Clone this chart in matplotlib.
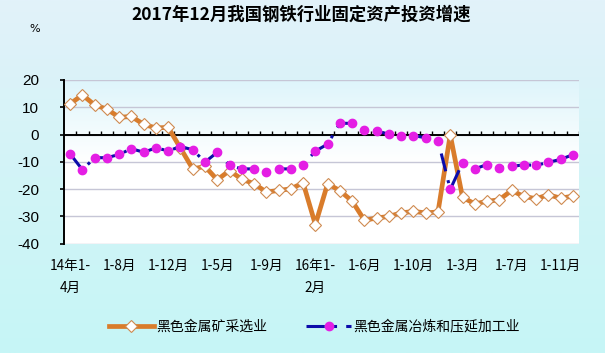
import numpy as np
import matplotlib
matplotlib.use("Agg")
import matplotlib.pyplot as plt
from matplotlib.colors import LinearSegmentedColormap

plt.rcParams['font.family'] = ['Noto Sans CJK SC', 'DejaVu Sans']
plt.rcParams['axes.unicode_minus'] = False

title = "2017年12月我国钢铁行业固定资产投资增速"
name_mining = "黑色金属矿采选业"
name_smelting = "黑色金属冶炼和压延加工业"

# monthly cumulative growth, 2014 1-4月 .. 2017 1-12月 (%)
mining = [11.2, 14.5, 10.8, 9.3, 6.3, 6.6, 3.7, 2.4, 2.6,
          -5.0, -12.6, -11.7, -16.6, -13.2, -16.4, -18.0, -21.1, -20.5, -19.9, -17.7,
          -33.0, -18.0, -20.6, -24.4, -31.4, -30.6, -30.0, -28.7, -28.2, -28.7, -28.4,
          -0.1, -23.0, -25.4, -24.5, -23.9, -20.5, -22.7, -23.5, -22.1, -23.3, -22.6]
smelting = [-7.1, -12.9, -8.5, -8.5, -7.3, -5.2, -6.5, -4.9, -6.0,
            -4.4, -5.6, -10.1, -6.5, -11.3, -12.6, -12.6, -13.6, -12.6, -12.6, -11.1,
            -6.1, -3.5, 4.1, 4.1, 1.8, 1.1, 0.2, -0.7, -0.4, -1.2, -2.2,
            -20.1, -10.4, -12.6, -11.0, -12.2, -11.7, -11.1, -11.3, -10.2, -9.1, -7.4]
tick_labels = ['14年1-\n4月', '1-8月', '1-12月', '1-5月', '1-9月', '16年1-\n2月',
               '1-6月', '1-10月', '1-3月', '1-7月', '1-11月']
y_ticks = [-40, -30, -20, -10, 0, 10, 20]

x = np.arange(len(mining))

fig = plt.figure(figsize=(6.05, 3.53), dpi=100)

# figure background gradient
bg = fig.add_axes([0, 0, 1, 1], zorder=-10)
bg_cmap = LinearSegmentedColormap.from_list('bg', ['#c6f6f6', '#d2f4f7', '#e2f2fa'])
bg.imshow(np.linspace(0, 1, 256).reshape(-1, 1), cmap=bg_cmap, aspect='auto',
          origin='lower', extent=[0, 1, 0, 1])
bg.axis('off')

ax = fig.add_axes([64 / 605, 1 - 243.7 / 353, 515 / 605, 163.8 / 353])
ax.set_facecolor('none')
plot_cmap = LinearSegmentedColormap.from_list('pl', ['#ffffff', '#ffffff', '#def5fb'])
ax.imshow(np.linspace(0, 1, 256).reshape(-1, 1), cmap=plot_cmap, aspect='auto',
          origin='lower', extent=[0, 1, 0, 1], transform=ax.transAxes, zorder=0)

ax.plot(x, mining, color='#d97c2b', lw=3.4, marker='D', markersize=6,
        markerfacecolor='white', markeredgecolor='#cf8a50', markeredgewidth=0.8,
        label=name_mining, zorder=3)
ax.plot(x, smelting, color='#0c0caa', lw=2.2, linestyle=(0, (6, 3, 1, 3)),
        marker='o', markersize=6, markerfacecolor='#e41ee4', markeredgecolor='#e41ee4',
        label=name_smelting, zorder=4)

ax.set_xlim(-0.5, len(mining) - 0.5)
ax.set_ylim(-40, 20)
ax.set_yticks(y_ticks)
ax.set_yticklabels([str(v) for v in y_ticks], fontsize=11, family='Liberation Sans')
ax.yaxis.grid(True, color='#c6c6d6', lw=1, zorder=1)
ax.set_axisbelow(True)
ax.tick_params(axis='y', direction='out', length=3, width=1.2, pad=15)

ax.set_xticks(x[::4])
ax.set_xticklabels(tick_labels, fontsize=9.8, linespacing=1.75)
ax.tick_params(axis='x', length=0, pad=11)

for s in ['top', 'right', 'bottom']:
    ax.spines[s].set_visible(False)
ax.spines['left'].set_linewidth(1.4)

# zero line with category ticks
ax.axhline(0, color='black', lw=1.4, zorder=2)
ax.vlines(np.arange(0.5, len(mining), 1), 0, 1.4, color='black', lw=1, zorder=2)

fig.text(0.497, 0.958, title, fontsize=12.5, fontweight='bold', ha='center', va='center')
fig.text(0.058, 0.918, '%', fontsize=8, ha='center', va='center', family='DejaVu Sans')

fig.legend(loc='center', bbox_to_anchor=(0.52, 0.075), ncol=2, frameon=False,
           fontsize=10, handlelength=3.2, columnspacing=2.8, handletextpad=0.2)

fig.savefig('out.png', dpi=100)
